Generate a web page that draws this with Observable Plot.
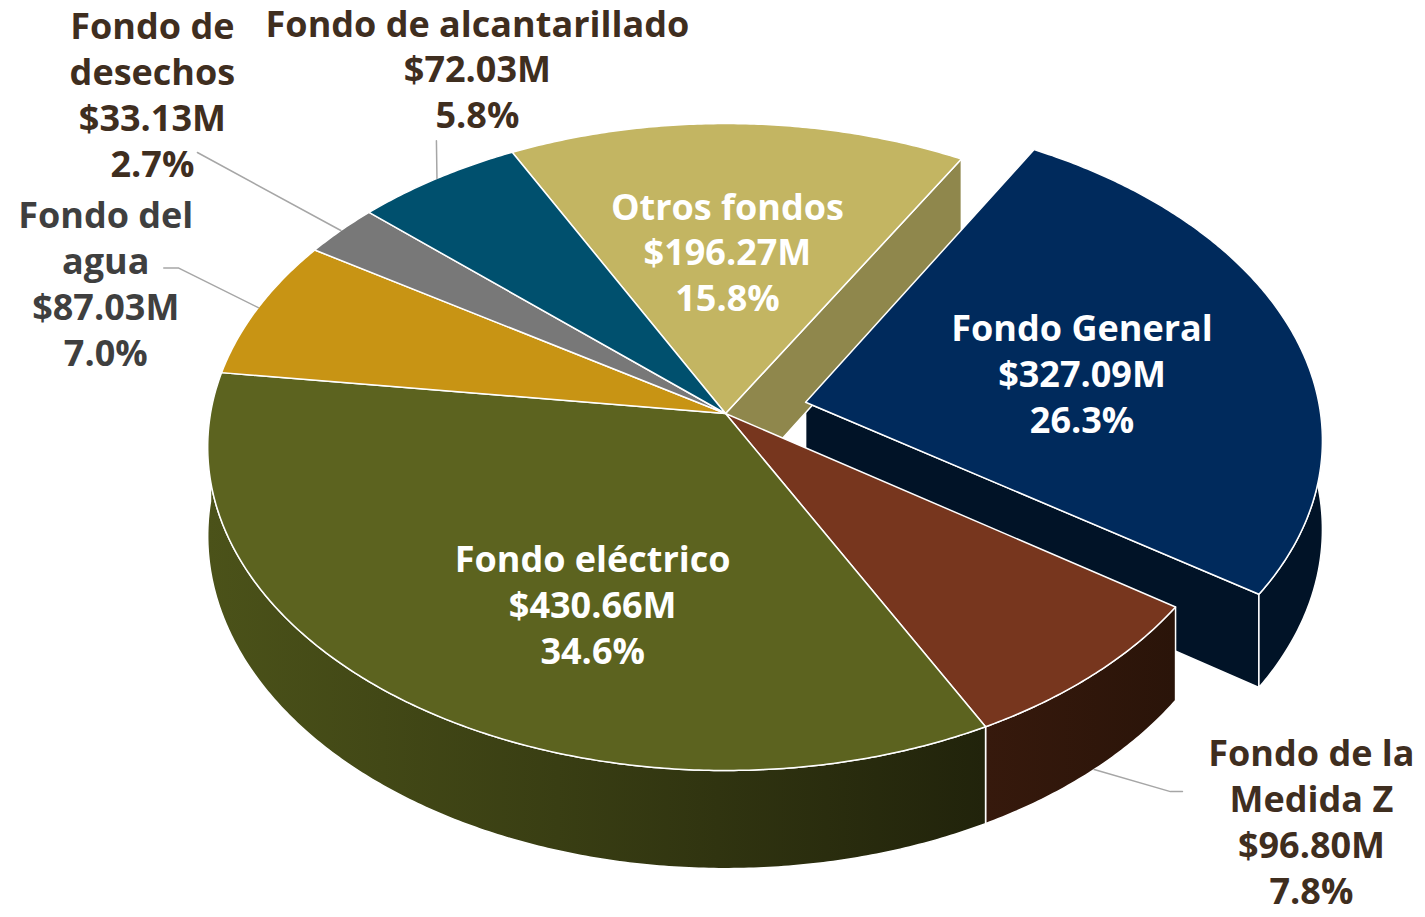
<!DOCTYPE html>
<html>
<head>
<meta charset="utf-8">
<script src="https://cdn.jsdelivr.net/npm/d3@7"></script>
<script src="https://cdn.jsdelivr.net/npm/@observablehq/plot@0.6"></script>
<style>
  html, body { margin: 0; padding: 0; background: #ffffff; overflow: hidden; }
  #chart svg { display: block; }
</style>
</head>
<body>
<div id="chart"></div>
<script>
// ---------------- DATA ----------------
const funds = [
  "Otros fondos",
  "Fondo General",
  "Fondo de la\nMedida Z",
  "Fondo eléctrico",
  "Fondo del\nagua",
  "Fondo de\ndesechos",
  "Fondo de alcantarillado"
];
const amounts = [196.27, 327.09, 96.80, 430.66, 87.03, 33.13, 72.03]; // millions of $
const percents = [15.8, 26.3, 7.8, 34.6, 7.0, 2.7, 5.8];
const explodedSlice = [false, true, false, false, false, false, false];

// ---------------- STYLE ----------------
const topColors  = ["#C3B562", "#002A5C", "#77361E", "#5C631F", "#C89414", "#787878", "#00506E"];
const sideColors = ["#8F874C", "#011327", "url(#gMed)", "url(#gElec)", "#8A6610", "#505050", "#003448"];
const labelColors = ["#ffffff", "#ffffff", "#3F2E1F", "#ffffff", "#3F3F3F", "#3F2E1F", "#3F2E1F"];
// label placement: [radius factor, angle shift in degrees] relative to the slice mid-angle
const labelPolar = [[0.537, -1.1], [0.554, 2.7], [1.508, -0.5], [0.61, -11.6], [1.328, -1.2], [1.669, 4.5], [1.332, 13.3]];
// leader line points after the pie-edge point, as pixel offsets from label centre
const leaderOffsets = [null, null, [[-141, -29], [-129, -29]], null, [[73, -14], [58, -14]], [[45, 59]], [[-41, 73]]];

// ---------------- GEOMETRY ----------------
const W = 1425, Hgt = 917;
const CX = 725, CY = 413, SX = 515, SY = 320;   // pie centre & projected radii (px)
const K = 0.1036;        // perspective factor
const DEPTH = 0.275;     // pie thickness (in radius units)
const EXPLODE = 0.16;
const startDeg = -26.9;
const a0 = startDeg * Math.PI / 180;

const arcs = d3.pie().sort(null).value(d => d).startAngle(a0).endAngle(a0 + 2 * Math.PI)(amounts);

function proj(u, v, z) {
  const w = 1 + K * v;
  return {x: u / w, y: (v - DEPTH * z) / w};
}
const slices = arcs.map((a, i) => {
  const mid = (a.startAngle + a.endAngle) / 2;
  const e = explodedSlice[i] ? EXPLODE : 0;
  return {i, a0: a.startAngle, a1: a.endAngle, mid, cu: e * Math.sin(mid), cv: e * Math.cos(mid)};
});
function pt(s, ang, r, z) {
  return proj(s.cu + r * Math.sin(ang), s.cv + r * Math.cos(ang), z);
}
function arcPts(s, t0, t1, z) {
  const n = Math.max(2, Math.ceil(Math.abs(t1 - t0) / (Math.PI / 360)));
  return d3.range(n + 1).map(j => pt(s, t0 + (t1 - t0) * j / n, 1, z));
}
function topFace(s) { return [pt(s, 0, 0, 0), ...arcPts(s, s.a0, s.a1, 0)]; }
function wallFace(s) {
  const t0 = Math.max(s.a0, Math.PI / 2), t1 = Math.min(s.a1, 1.5 * Math.PI);
  if (t1 <= t0) return null;
  return [...arcPts(s, t0, t1, 0), ...arcPts(s, t1, t0, 1)];
}
function cutFace(s, ang) { return [pt(s, 0, 0, 0), pt(s, ang, 1, 0), pt(s, ang, 1, 1), pt(s, 0, 0, 1)]; }
function cutFaces(s) {
  const n = slices.length;
  const prevEx = explodedSlice[(s.i - 1 + n) % n], nextEx = explodedSlice[(s.i + 1) % n];
  const me = explodedSlice[s.i];
  const faces = [];
  if ((me || prevEx) && Math.sin(s.a0) < 0) faces.push(cutFace(s, s.a0));
  if ((me || nextEx) && -Math.sin(s.a1) < 0) faces.push(cutFace(s, s.a1));
  return faces;
}

const faceStyle = {x: "x", y: "y", curve: "linear-closed", stroke: "#ffffff", strokeWidth: 1.5, strokeLinejoin: "round"};
const faceMark = (pts, fill) => Plot.line(pts, {...faceStyle, fill});

const exSlices = slices.filter(s => explodedSlice[s.i]);
const inSlices = slices.filter(s => !explodedSlice[s.i]);

const marks = [];
marks.push(() => {
  const g = d3.create("svg:g");
  const defs = g.append("defs");
  const ge = defs.append("linearGradient").attr("id", "gElec").attr("x1", 0).attr("x2", 1).attr("y1", 0).attr("y2", 0);
  ge.append("stop").attr("offset", "0%").attr("stop-color", "#4B5219");
  ge.append("stop").attr("offset", "45%").attr("stop-color", "#393E13");
  ge.append("stop").attr("offset", "100%").attr("stop-color", "#21230B");
  const gm = defs.append("linearGradient").attr("id", "gMed").attr("x1", 0).attr("x2", 1).attr("y1", 0).attr("y2", 0);
  gm.append("stop").attr("offset", "0%").attr("stop-color", "#36190C");
  gm.append("stop").attr("offset", "100%").attr("stop-color", "#2A1409");
  return g.node();
});
for (const s of exSlices) {
  for (const f of cutFaces(s)) marks.push(faceMark(f, sideColors[s.i]));
  const w = wallFace(s); if (w) marks.push(faceMark(w, sideColors[s.i]));
}
for (const s of inSlices) for (const f of cutFaces(s)) marks.push(faceMark(f, sideColors[s.i]));
for (const s of inSlices) { const w = wallFace(s); if (w) marks.push(faceMark(w, sideColors[s.i])); }
for (const s of inSlices) marks.push(faceMark(topFace(s), topColors[s.i]));
for (const s of exSlices) marks.push(faceMark(topFace(s), topColors[s.i]));

const total = d3.sum(amounts);
slices.forEach(s => {
  const i = s.i;
  const [r, shift] = labelPolar[i];
  const c = pt(s, s.mid + shift * Math.PI / 180, r, 0);
  const txt = `${funds[i]}\n$${amounts[i].toFixed(2)}M\n${(amounts[i] / total * 100).toFixed(1)}%`;
  if (leaderOffsets[i]) {
    const edgeZ = Math.cos(s.mid) < 0 ? 1 : 0;
    const pts = [pt(s, s.mid, 1, edgeZ), ...leaderOffsets[i].map(([dx, dy]) => ({x: c.x + dx / SX, y: c.y - dy / SY}))];
    marks.push(Plot.line(pts, {x: "x", y: "y", stroke: "#A6A6A6", strokeWidth: 1.5}));
  }
  marks.push(Plot.text([{x: c.x, y: c.y, t: txt}], {
    x: "x", y: "y", text: "t", fill: labelColors[i],
    fontFamily: "'Open Sans', 'DejaVu Sans', sans-serif", fontWeight: 700, fontSize: 36,
    lineHeight: 1.275, textAnchor: "middle", lineAnchor: "middle"
  }));
});

const chart = Plot.plot({
  width: W, height: Hgt, margin: 0,
  style: {background: "#ffffff"},
  x: {domain: [-CX / SX, (W - CX) / SX], axis: null},
  y: {domain: [(CY - Hgt) / SY, CY / SY], axis: null},
  marks
});
document.getElementById("chart").appendChild(chart);
</script>
</body>
</html>
